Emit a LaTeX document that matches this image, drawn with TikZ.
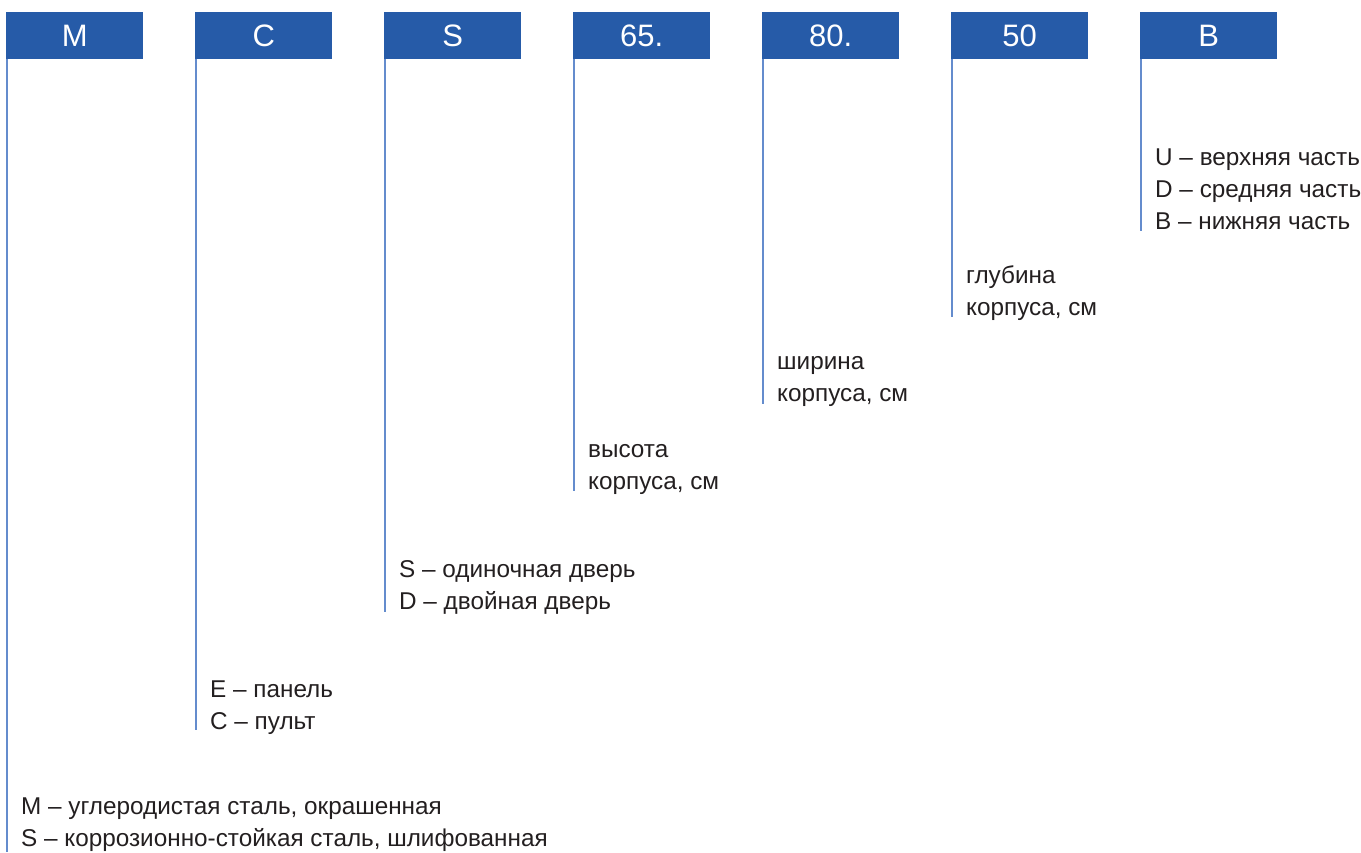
\documentclass[tikz,border=0pt]{standalone}
\usepackage{fontspec}
\setmainfont{Liberation Sans}
\definecolor{boxblue}{RGB}{38,91,168}
\definecolor{lineblue}{RGB}{100,140,205}
\definecolor{txt}{RGB}{35,31,32}
\begin{document}
\begin{tikzpicture}[x=1pt,y=-1pt,
  codebox/.style={fill=boxblue, draw=none, minimum width=137pt, minimum height=46.5pt, inner sep=0pt, text=white, font=\fontsize{31}{31}\selectfont, anchor=north west},
  lead/.style={draw=lineblue, line width=1.6pt},
  desc/.style={anchor=base west, inner sep=0pt, text=txt, font=\fontsize{24.3}{32}\selectfont}]
\useasboundingbox (0,0) rectangle (1361,852);
% code boxes
\node[codebox] (b1) at (6,12) {M};
\node[codebox] (b2) at (195,12) {C};
\node[codebox] (b3) at (384,12) {S};
\node[codebox] (b4) at (573,12) {65.};
\node[codebox] (b5) at (762,12) {80.};
\node[codebox] (b6) at (951,12) {50};
\node[codebox] (b7) at (1140,12) {B};
% line ends
\coordinate (e1) at (7,852);
\coordinate (e2) at (196,730);
\coordinate (e3) at (385,612);
\coordinate (e4) at (574,491);
\coordinate (e5) at (763,404);
\coordinate (e6) at (952,317);
\coordinate (e7) at (1141,231);
\foreach \i in {1,...,7}{\draw[lead] (b\i.south west -| e\i) -- (e\i);}
% descriptions
\node[desc] (t11) at (21,814) {M – углеродистая сталь, окрашенная};
\node[desc] (t12) at (21,846) {S – коррозионно-стойкая сталь, шлифованная};
\node[desc] (t21) at (210,697) {E – панель};
\node[desc] (t22) at (210,729) {C – пульт};
\node[desc] (t31) at (399,577) {S – одиночная дверь};
\node[desc] (t32) at (399,609) {D – двойная дверь};
\node[desc] (t41) at (588,457) {высота};
\node[desc] (t42) at (588,489) {корпуса, см};
\node[desc] (t51) at (777,369) {ширина};
\node[desc] (t52) at (777,401) {корпуса, см};
\node[desc] (t61) at (966,283) {глубина};
\node[desc] (t62) at (966,315) {корпуса, см};
\node[desc] (t71) at (1155,165) {U – верхняя часть};
\node[desc] (t72) at (1155,197) {D – средняя часть};
\node[desc] (t73) at (1155,229) {B – нижняя часть};
\end{tikzpicture}
\end{document}
